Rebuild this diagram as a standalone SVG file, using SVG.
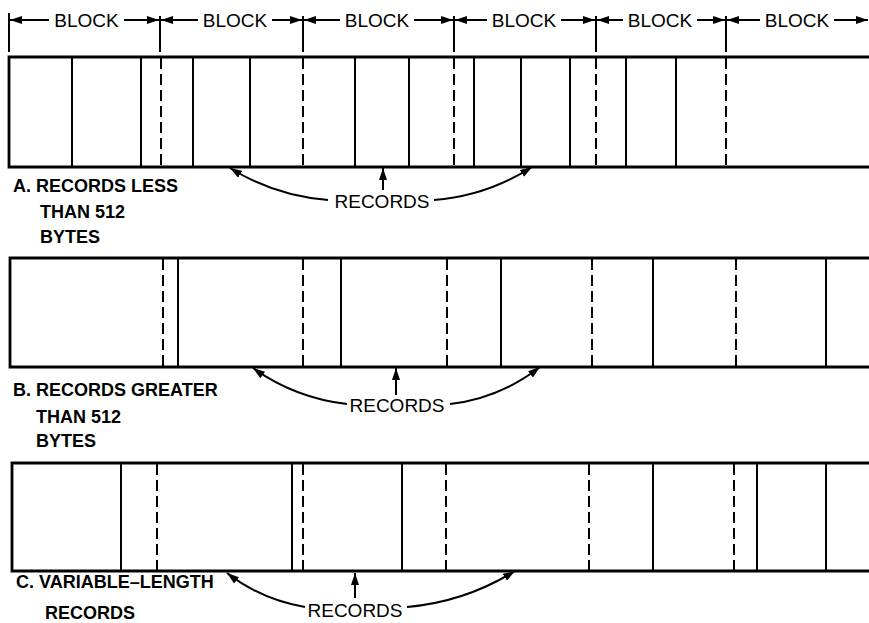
<svg xmlns="http://www.w3.org/2000/svg" width="869" height="623" viewBox="0 0 869 623">
<style>
.bg{fill:#fff}
.edge{stroke:#000;stroke-width:2.8;fill:none}
.sol{stroke:#000;stroke-width:2;fill:none}
.dash{stroke:#000;stroke-width:2;fill:none;stroke-dasharray:11 5}
.arr{stroke:#000;stroke-width:2;fill:none;marker-end:url(#ah)}
.tick{stroke:#000;stroke-width:2;fill:none}
.lbl{font-family:"Liberation Sans",Arial,sans-serif;font-size:19px;fill:#000}
.cap{font-family:"Liberation Sans",Arial,sans-serif;font-size:18px;font-weight:bold;fill:#000}
</style>
<defs>
<marker id="ah" viewBox="0 0 12 8" refX="12" refY="4" markerWidth="12" markerHeight="8" markerUnits="userSpaceOnUse" orient="auto">
<path d="M0,0 L12,4 L0,8 z" fill="#000"/>
</marker>
</defs>
<rect class="bg" x="0" y="0" width="869" height="623"/>

<g id="blocks">
<g class="tick">
<line x1="9" y1="13" x2="9" y2="52"/>
<line x1="160" y1="16" x2="160" y2="52"/>
<line x1="303" y1="16" x2="303" y2="52"/>
<line x1="454" y1="16" x2="454" y2="52"/>
<line x1="596" y1="16" x2="596" y2="52"/>
<line x1="726" y1="16" x2="726" y2="52"/>
</g>
<g class="arr">
<line x1="49" y1="20" x2="10" y2="20"/>
<line x1="124" y1="20" x2="159" y2="20"/>
<line x1="198" y1="20" x2="161" y2="20"/>
<line x1="272" y1="20" x2="302" y2="20"/>
<line x1="340" y1="20" x2="304" y2="20"/>
<line x1="414" y1="20" x2="453" y2="20"/>
<line x1="487" y1="20" x2="455" y2="20"/>
<line x1="561" y1="20" x2="595" y2="20"/>
<line x1="623" y1="20" x2="597" y2="20"/>
<line x1="697" y1="20" x2="725" y2="20"/>
<line x1="760" y1="20" x2="727" y2="20"/>
<line x1="834" y1="20" x2="868" y2="20"/>
</g>
<g class="lbl" text-anchor="middle">
<text x="86.5" y="27">BLOCK</text>
<text x="235" y="27">BLOCK</text>
<text x="377" y="27">BLOCK</text>
<text x="524" y="27">BLOCK</text>
<text x="660" y="27">BLOCK</text>
<text x="797" y="27">BLOCK</text>
</g>
</g>

<g id="strip-a">
<path class="edge" d="M869,57 H9 V167 H869"/>
<g class="sol">
<line x1="72" y1="57" x2="72" y2="167"/>
<line x1="141" y1="57" x2="141" y2="167"/>
<line x1="193" y1="57" x2="193" y2="167"/>
<line x1="250" y1="57" x2="250" y2="167"/>
<line x1="355" y1="57" x2="355" y2="167"/>
<line x1="409" y1="57" x2="409" y2="167"/>
<line x1="474" y1="57" x2="474" y2="167"/>
<line x1="521" y1="57" x2="521" y2="167"/>
<line x1="570" y1="57" x2="570" y2="167"/>
<line x1="626" y1="57" x2="626" y2="167"/>
<line x1="676" y1="57" x2="676" y2="167"/>
</g>
<g class="dash">
<line x1="161" y1="58" x2="161" y2="167"/>
<line x1="303" y1="58" x2="303" y2="167"/>
<line x1="454" y1="58" x2="454" y2="167"/>
<line x1="596" y1="58" x2="596" y2="167"/>
<line x1="726" y1="58" x2="726" y2="167"/>
</g>
</g>

<g id="label-a" class="cap">
<text x="13" y="192">A. RECORDS LESS</text>
<text x="40" y="218">THAN 512</text>
<text x="40" y="243">BYTES</text>
</g>

<g id="strip-b">
<path class="edge" d="M869,258 H10 V367 H869"/>
<g class="sol">
<line x1="178" y1="258" x2="178" y2="367"/>
<line x1="341" y1="258" x2="341" y2="367"/>
<line x1="501" y1="258" x2="501" y2="367"/>
<line x1="653" y1="258" x2="653" y2="367"/>
<line x1="826" y1="258" x2="826" y2="367"/>
</g>
<g class="dash">
<line x1="163" y1="259" x2="163" y2="367"/>
<line x1="303" y1="259" x2="303" y2="367"/>
<line x1="447" y1="259" x2="447" y2="367"/>
<line x1="592" y1="259" x2="592" y2="367"/>
<line x1="736" y1="259" x2="736" y2="367"/>
</g>
</g>

<g id="label-b" class="cap">
<text x="13" y="396">B. RECORDS GREATER</text>
<text x="36" y="423">THAN 512</text>
<text x="36" y="447">BYTES</text>
</g>

<g id="strip-c">
<path class="edge" d="M869,463 H12 V571 H869"/>
<g class="sol">
<line x1="121" y1="463" x2="121" y2="571"/>
<line x1="292" y1="463" x2="292" y2="571"/>
<line x1="402" y1="463" x2="402" y2="571"/>
<line x1="653" y1="463" x2="653" y2="571"/>
<line x1="757" y1="463" x2="757" y2="571"/>
<line x1="826" y1="463" x2="826" y2="571"/>
</g>
<g class="dash">
<line x1="157" y1="464" x2="157" y2="571"/>
<line x1="303" y1="464" x2="303" y2="571"/>
<line x1="446" y1="464" x2="446" y2="571"/>
<line x1="589" y1="464" x2="589" y2="571"/>
<line x1="734" y1="464" x2="734" y2="571"/>
</g>
</g>

<g id="label-c" class="cap">
<text x="16" y="588">C. VARIABLE–LENGTH</text>
<text x="45" y="619">RECORDS</text>
</g>

<g id="records-labels" class="lbl" text-anchor="middle">
<text x="382" y="207.5">RECORDS</text>
<text x="397" y="412">RECORDS</text>
<text x="355" y="617">RECORDS</text>
</g>

<g id="connectors" class="arr">
<path d="M328,200 Q275,196 230,168"/>
<line x1="383" y1="190" x2="383" y2="168"/>
<path d="M434,200 Q487,196 532,167"/>
<path d="M347,404 Q295,398 253,368"/>
<line x1="396" y1="395" x2="396" y2="368"/>
<path d="M450,404 Q500,398 540,367"/>
<path d="M305,607 Q262,600 227,573"/>
<line x1="355" y1="598" x2="355" y2="573"/>
<path d="M407,607 Q465,602 515,571"/>
</g>
</svg>
